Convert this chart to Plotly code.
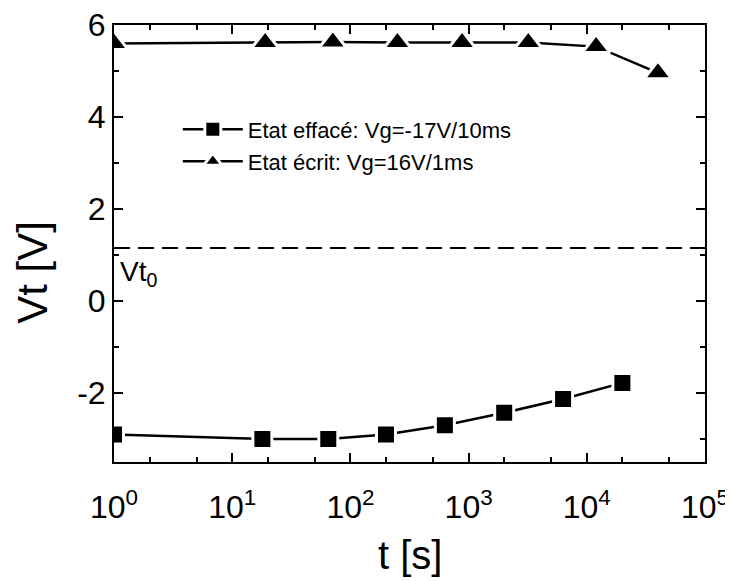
import plotly.graph_objects as go

# Data
t_erase = [1, 18, 65, 200, 630, 2000, 6300, 20000]
vt_erase = [-2.9, -3.0, -3.0, -2.9, -2.7, -2.43, -2.13, -1.78]
t_write = [1, 19, 71, 250, 880, 3200, 12000, 40000]
vt_write = [5.6, 5.62, 5.63, 5.62, 5.62, 5.62, 5.53, 4.96]
vt0_level = 1.15
x_tickvals = [1, 10, 100, 1000, 10000, 100000]
x_ticktext = ["10<sup>0</sup>", "10<sup>1</sup>", "10<sup>2</sup>",
              "10<sup>3</sup>", "10<sup>4</sup>", "10<sup>5</sup>"]
y_tickvals = [-2, 0, 2, 4, 6]
y_ticktext = ["-2", "0", "2", "4", "6"]
label_erase = "Etat effacé: Vg=-17V/10ms"
label_write = "Etat écrit: Vg=16V/1ms"

FONT = "Liberation Sans, Arial, sans-serif"

fig = go.Figure()
fig.add_trace(go.Scatter(
    x=t_erase, y=vt_erase, mode="lines+markers", name=label_erase,
    line=dict(color="black", width=2.5),
    marker=dict(symbol="square", size=19, color="black",
                line=dict(color="white", width=3)),
    legend="legend",
))
fig.add_trace(go.Scatter(
    x=t_write, y=vt_write, mode="lines+markers", name=label_write,
    line=dict(color="black", width=2.5),
    marker=dict(symbol="triangle-up", size=24, color="black",
                line=dict(color="white", width=3)),
    legend="legend2",
))

fig.add_shape(type="line", xref="paper", x0=0, x1=1, yref="y",
              y0=vt0_level, y1=vt0_level,
              line=dict(color="black", width=2, dash="16px,8px"))
fig.add_annotation(x=0, xref="paper", xanchor="left", y=vt0_level, yref="y",
                   yanchor="top", yshift=-6, xshift=4,
                   text="Vt<sub>0</sub>", showarrow=False,
                   font=dict(family=FONT, size=28, color="black"))

# axis titles placed as annotations to match the reference positions
fig.add_annotation(x=-0.137, xref="paper", y=0.433, yref="paper",
                   text="Vt [V]", textangle=-90, showarrow=False,
                   xanchor="center", yanchor="middle",
                   font=dict(family=FONT, size=42, color="black"))
fig.add_annotation(x=0.5, xref="paper", y=-0.213, yref="paper",
                   text="t [s]", showarrow=False,
                   xanchor="center", yanchor="middle",
                   font=dict(family=FONT, size=40, color="black"))

legend_common = dict(bgcolor="rgba(0,0,0,0)", font=dict(family=FONT, size=22, color="black"),
                     xanchor="left", yanchor="middle", itemwidth=60)
# page body has an 8px margin, so the figure is sized to fill the rest of the window
fig.update_layout(
    width=725, height=573,
    margin=dict(l=106, r=28, t=17, b=119, autoexpand=False),
    paper_bgcolor="white", plot_bgcolor="white",
    font=dict(family=FONT, color="black"),
    showlegend=True,
    legend=dict(x=0.108, y=0.761, **legend_common),
    legend2=dict(x=0.108, y=0.688, **legend_common),
    xaxis=dict(
        type="log", range=[0, 5], automargin=False,
        tickvals=x_tickvals, ticktext=x_ticktext,
        ticks="inside", ticklen=9, tickwidth=2, tickcolor="black",
        showline=True, linewidth=2, linecolor="black", mirror="allticks",
        showgrid=False, zeroline=False,
        tickfont=dict(family=FONT, size=32, color="black"),
        ticklabelstandoff=16, ticklabeloverflow="allow",
        minor=dict(ticks="inside", ticklen=5, tickwidth=2, tickcolor="black",
                   showgrid=False),
    ),
    yaxis=dict(
        range=[-3.5, 6], automargin=False,
        tickvals=y_tickvals, ticktext=y_ticktext,
        ticks="inside", ticklen=9, tickwidth=2, tickcolor="black",
        showline=True, linewidth=2, linecolor="black", mirror="allticks",
        showgrid=False, zeroline=False,
        tickfont=dict(family=FONT, size=32, color="black"),
        ticklabelstandoff=0, ticklabeloverflow="allow",
        minor=dict(ticks="inside", ticklen=5, tickwidth=2, tickcolor="black",
                   dtick=1, showgrid=False),
    ),
)

fig.write_html("out.html")
